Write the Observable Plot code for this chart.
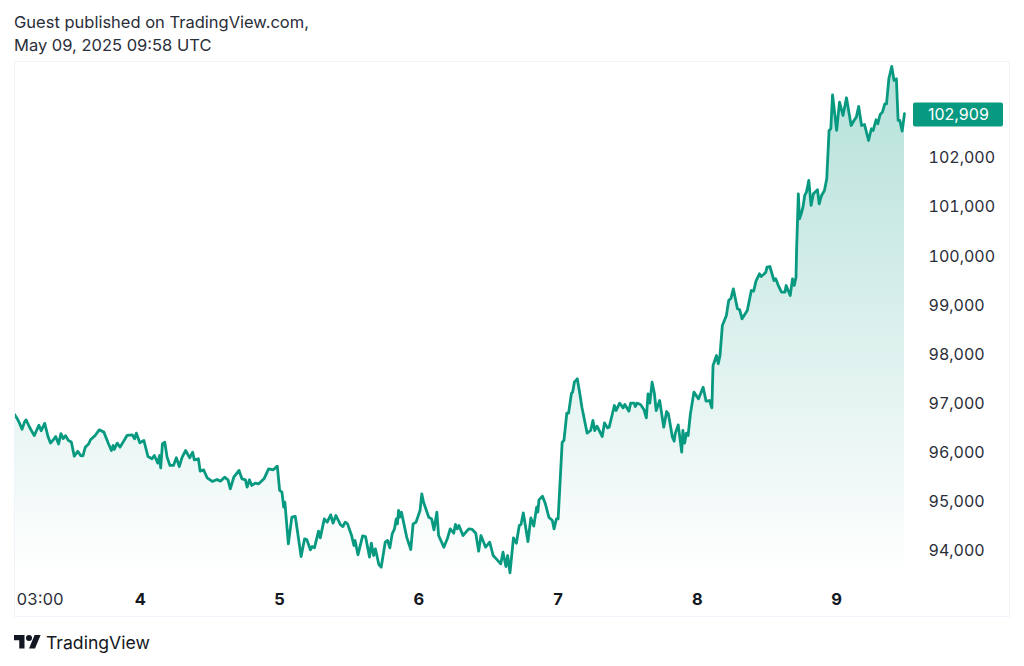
<!DOCTYPE html>
<html>
<head>
<meta charset="utf-8">
<script src="https://cdn.jsdelivr.net/npm/d3@7"></script>
<script src="https://cdn.jsdelivr.net/npm/@observablehq/plot@0.6"></script>
<style>
html,body{margin:0;padding:0;background:#fff;width:1024px;height:666px;overflow:hidden;font-family:Inter,sans-serif;color:#131722}
#title{position:absolute;left:14px;top:11px;font-size:16.5px;line-height:23px;color:#2a2e39}
#pane{position:absolute;left:14px;top:61px;width:996px;height:556px;box-sizing:border-box;border:1px solid #f0f3fa;overflow:hidden}
#pane svg{position:absolute;left:-15px;top:-1px;overflow:visible;max-width:none !important;width:1024px;height:556px}
#foot{position:absolute;left:14px;top:632px;display:flex;align-items:center;gap:5px;font-size:17.6px;color:#131722}
</style>
</head>
<body>
<div id="title">Guest published on TradingView.com,<br>May 09, 2025 09:58 UTC</div>
<div id="pane"></div>
<div id="foot"><svg width="27" height="21" viewBox="0 0 36 28"><path fill="#131722" d="M14 22H7V11H0V4h14v18zM28 22h-8l7.5-18h8L28 22z"/><circle fill="#131722" cx="20" cy="8" r="4"/></svg><span>TradingView</span></div>
<script>
// Hours since 2025-05-03 00:00 and BTC price
const hours = [2.3,2.7,3.1,3.6,4.0,4.3,4.9,5.7,6.5,6.9,7.5,8.1,8.5,8.9,9.4,9.9,10.3,10.7,11.1,11.6,12.1,12.6,13.2,13.7,14.1,14.5,15.1,15.4,16.2,16.9,17.7,18.5,19.0,19.3,19.5,20.0,20.5,21.7,22.6,23.0,23.3,23.9,24.6,25.3,26.0,26.4,27.0,27.3,27.5,27.8,28.2,28.6,29.1,29.7,30.2,30.7,31.2,31.8,32.5,33.0,33.3,34.0,34.3,34.9,35.5,36.4,37.2,37.8,38.5,39.1,39.5,40.1,41.0,41.5,42.1,42.4,42.8,43.2,43.8,44.4,45.3,46.1,46.9,47.6,48.0,48.4,48.7,48.9,49.5,50.1,50.7,51.7,
52.3,52.7,53.3,53.6,54.0,54.7,55.0,55.7,56.2,56.8,57.2,57.7,58.5,58.9,59.3,59.7,60.4,60.8,61.0,61.5,62.3,62.8,63.5,63.8,64.2,64.5,65.1,65.5,66.2,66.6,67.0,67.4,67.8,68.1,68.3,68.5,68.7,69.0,69.9,70.6,71.0,71.5,72.2,72.5,72.8,73.7,74.2,74.6,75.1,75.4,76.3,76.9,77.4,78.0,78.3,78.6,78.9,79.6,80.6,81.2,81.8,82.3,82.7,83.5,84.2,84.8,85.5,86.1,86.5,87.0,87.3,87.7,88.3,88.8,89.3,89.6,90.0,90.4,90.8,91.3,91.8,92.3,92.5,92.7,93.3,93.8,94.4,95.0,95.3,95.7,96.0,
96.7,97.0,97.5,97.8,98.3,98.5,98.8,99.3,99.7,100.1,101.0,101.6,102.0,102.3,102.7,103.6,104.0,104.5,104.8,105.7,106.0,106.6,107.2,107.5,108.2,108.5,109.1,109.3,109.6,110.2,110.8,111.2,111.5,111.8,112.2,112.6,112.9,113.5,114.2,114.7,115.0,115.7,116.0,116.2,116.7,117.3,117.5,117.8,118.1,118.4,118.8,119.4,120.2,121.0,121.5,122.1,122.5,122.7,123.3,123.6,123.9,124.3,125.0,125.4,125.8,126.2,126.9,127.3,127.7,128.6,129.3,129.7,130.1,130.7,131.0,131.4,131.8,132.0,132.5,133.2,133.5,133.9,134.5,135.1,135.3,136.0,136.4,136.7,137.0,
137.1,137.4,137.6,137.9,138.2,138.5,138.8,139.2,139.6,140.0,140.7,141.0,141.4,141.9,142.3,142.7,143.0,143.3,144.0,144.5,145.1,145.7,146.5,147.0,147.4,147.8,148.3,148.8,149.5,150.0,150.3,150.8,151.1,151.5,151.9,152.3,152.6,153.0,153.5,153.9,154.3,154.6,154.9,155.3,155.7];
const prices = [96780,96710,96620,96480,96620,96670,96520,96350,96560,96450,96600,96320,96200,96250,96330,96180,96390,96290,96350,96250,96220,95930,96030,95945,95940,96115,96183,96265,96353,96468,96421,96183,96047,96149,96068,96197,96115,96353,96366,96285,96400,96203,96251,95925,95878,95945,95789,95945,95694,96183,96217,95912,95742,95742,95898,95721,95912,96047,95898,96013,95857,95878,95626,95653,95491,95416,95457,95423,95504,95450,95267,95504,95640,95470,95450,95300,95450,95335,95382,95368,95470,95674,95653,95728,95233,95199,94893,94995,94146,94689,94703,93888,
94248,94227,94024,94091,94064,94404,94268,94655,94587,94736,94567,94723,94533,94499,94587,94553,94315,94112,94214,93922,94309,94295,93874,94159,93908,94044,93725,93671,94180,94214,94064,94349,94451,94655,94553,94825,94689,94791,94282,94030,94553,94587,94825,95164,94994,94689,94655,94431,94791,94315,94078,94248,94451,94363,94540,94451,94519,94315,94451,94438,94363,93996,94315,94078,94180,93908,93820,93738,93976,93684,93908,93555,94268,94159,94519,94540,94777,94485,94193,94675,94506,94893,94791,95042,95117,94960,94689,94621,94451,94655,94655,
96216,96250,96807,96807,97214,97235,97438,97506,97235,96929,96400,96454,96658,96454,96542,96332,96610,96508,96522,96963,96861,97011,96916,96984,96848,97011,97011,96943,97011,96984,96875,96712,97201,97011,97438,97201,96861,97065,96522,96841,96793,96318,96237,96400,96569,96013,96454,96196,96400,96352,96793,97235,97099,97336,97051,97065,96916,97778,97981,97812,97981,98592,98796,99102,99149,99339,98932,98912,98728,98898,99305,99292,99495,99645,99590,99631,99679,99781,99794,99509,99543,99421,99271,99271,99407,99203,99543,99407,99577,
100121,101275,100766,100867,101003,101241,101309,101546,101037,101275,101356,101071,101241,101343,101580,102565,102599,103291,102565,103142,102870,103230,102666,102768,102836,103053,102666,102687,102361,102599,102565,102782,102700,102890,102938,103108,103108,103617,103868,103583,103617,102768,102768,102551,102909];
const priceTicks = [94000,95000,96000,97000,98000,99000,100000,101000,102000];
const dayTicks = [4,5,6,7,8,9];
const firstTickHours = 3;
const lastPrice = 102909;
const lineColor = "#089981";

const t0 = Date.UTC(2025,4,3);
const toDate = h => new Date(t0 + h*3600e3);
const data = hours.map((h,i)=>({t:toDate(h),p:prices[i]}));
const dayDates = dayTicks.map(d=>new Date(Date.UTC(2025,4,d)));

const chart = Plot.plot({
  width:1024, height:556,
  marginLeft:14, marginRight:120, marginTop:0, marginBottom:39,
  style:{fontFamily:"Inter,sans-serif",fontSize:"16px",color:"#131722",background:"transparent"},
  x:{type:"utc",domain:[toDate(2.3),toDate(155.7)],label:null},
  y:{domain:[93440,103969],label:null},
  marks:[
    ()=>{const d=d3.create("svg:defs");
      const g=d.append("linearGradient").attr("id","fade").attr("x1",0).attr("x2",0).attr("y1",0).attr("y2",1);
      g.append("stop").attr("offset","0%").attr("stop-color",lineColor).attr("stop-opacity",0.3);
      g.append("stop").attr("offset","100%").attr("stop-color",lineColor).attr("stop-opacity",0);
      return d.node();},
    Plot.areaY(data,{x:"t",y1:93440,y2:"p",fill:"url(#fade)"}),
    Plot.lineY(data,{x:"t",y:"p",stroke:lineColor,strokeWidth:2.8,curve:"linear",strokeLinejoin:"round"}),
    Plot.axisY({anchor:"right",ticks:priceTicks,tickSize:0,tickPadding:24,tickFormat:d3.format(","),label:null,fontSize:16,fill:"#2a2e39"}),
    Plot.axisX({anchor:"bottom",ticks:dayDates,tickSize:0,tickPadding:15,tickFormat:d=>String(d.getUTCDate()),label:null,fontSize:16.5,fontWeight:700}),
    Plot.axisX({anchor:"bottom",ticks:[toDate(firstTickHours)],tickSize:0,tickPadding:15,tickFormat:()=>"03:00",label:null,fontSize:16.5,textAnchor:"start",dx:-2,fill:"#2a2e39"}),
    (i,s)=>{const g=d3.create("svg:g");
      g.append("rect").attr("x",913).attr("y",s.y(lastPrice)-10.5).attr("width",90).attr("height",24).attr("rx",2).attr("fill",lineColor);
      g.append("text").attr("x",928).attr("y",s.y(lastPrice)+1.5).attr("dy","0.36em").attr("text-anchor","start").attr("fill","#fff").attr("font-size",16).text(d3.format(",")(lastPrice));
      return g.node();}
  ]
});
document.getElementById("pane").append(chart);
</script>
</body>
</html>
